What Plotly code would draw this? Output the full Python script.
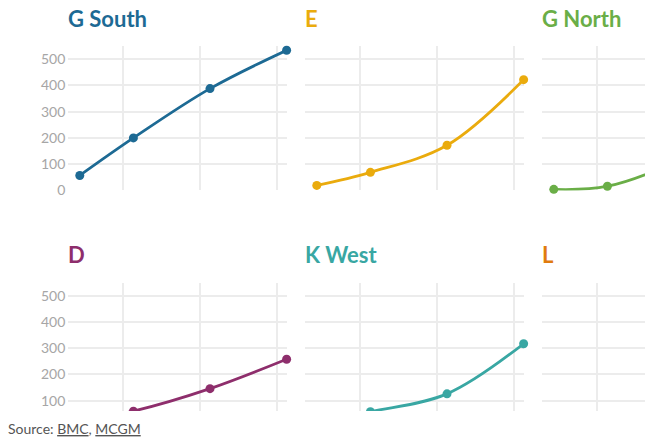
import plotly.graph_objects as go

W, H_TARGET = 645, 439
SY = 0.98                      # measured vertical render factor
H = round(H_TARGET / SY)

years = [1994.3, 2001.3, 2011.3, 2021.3]
grid_years = [2000, 2010, 2020]
y_ticks = [0, 100, 200, 300, 400, 500]

wards = ["G South", "E", "G North", "D", "K West", "L"]
g_south = [57, 200, 388, 534]
e_ward = [19, 69, 172, 422]
g_north = [4, 16, 125, 300]
d_ward = [20, 60, 146, 258]
k_west = [15, 58, 126, 317]
l_ward = [5, 15, 45, 150]
series = [g_south, e_ward, g_north, d_ward, k_west, l_ward]
colors = ["#1d6a94", "#eaab0d", "#6aae47", "#8e2e6c", "#39a7a3", "#e07b0e"]

FONT = "Lato"

def fx(px):
    return px / W

def fy(py):
    return 1 - (py / SY) / H

col_px = [(68.3, 287.0), (305.3, 524.0), (542.3, 645.0)]
row_px = [(46.0, 190.0), (282.0, 426.0)]
px_per_year = (287.0 - 68.3) / 28.55
x0 = 1992.8

fig = go.Figure()
layout = dict(
    width=W, height=H, margin=dict(l=0, r=0, t=0, b=0),
    paper_bgcolor="white", plot_bgcolor="white", showlegend=False,
    font=dict(family=FONT),
)
annotations = []
for i, (name, vals, col) in enumerate(zip(wards, series, colors)):
    r, c = divmod(i, 3)
    k = i + 1
    xa = "xaxis" if k == 1 else f"xaxis{k}"
    ya = "yaxis" if k == 1 else f"yaxis{k}"
    xl, xr = col_px[c]
    yt, yb = row_px[r]
    xend = x0 + (xr - xl) / px_per_year
    layout[xa] = dict(
        domain=[fx(xl), fx(xr)], range=[x0, xend], anchor=ya.replace("axis", ""),
        tickvals=grid_years, showticklabels=False, showgrid=True,
        gridcolor="#ececec", gridwidth=1.5, zeroline=False, showline=False,
    )
    layout[ya] = dict(
        domain=[fy(yb), fy(yt)], range=[0, 550], anchor=xa.replace("axis", ""),
        tickvals=y_ticks if r == 0 else y_ticks[1:],
        showticklabels=(c == 0), showgrid=True,
        gridcolor="#ececec", gridwidth=1.5, zeroline=False, showline=False,
        tickfont=dict(family=FONT, size=14, color="#a6a6a6"),
        ticklabelstandoff=2,
    )
    fig.add_trace(go.Scatter(
        x=years, y=vals, mode="lines+markers",
        line=dict(color=col, width=2.8, shape="spline", smoothing=1),
        marker=dict(color=col, size=9), cliponaxis=False,
        xaxis=xa.replace("axis", ""), yaxis=ya.replace("axis", ""),
        hoverinfo="skip",
    ))
    annotations.append(dict(
        text=f"<b>{name}</b>", xref="paper", yref="paper",
        x=fx(xl - 2), y=fy(yt - 28), xanchor="left", yanchor="middle",
        showarrow=False, font=dict(family=FONT, size=22, color=col),
    ))

annotations.append(dict(
    text='Source: <span style="text-decoration:underline">BMC</span>, '
         '<span style="text-decoration:underline">MCGM</span>',
    xref="paper", yref="paper", x=fx(6), y=fy(428), xanchor="left",
    yanchor="middle", showarrow=False,
    font=dict(family=FONT, size=14, color="#555555"),
))
layout["annotations"] = annotations
layout["shapes"] = [dict(
    type="rect", xref="paper", yref="paper", x0=0, x1=1, y0=0, y1=fy(410),
    fillcolor="white", line=dict(width=0), layer="above",
)]
fig.update_layout(**layout)
fig.write_html(
    "out.html",
    config={"displayModeBar": False},
    post_script="document.body.style.margin='0';document.body.style.overflow='hidden';",
)
